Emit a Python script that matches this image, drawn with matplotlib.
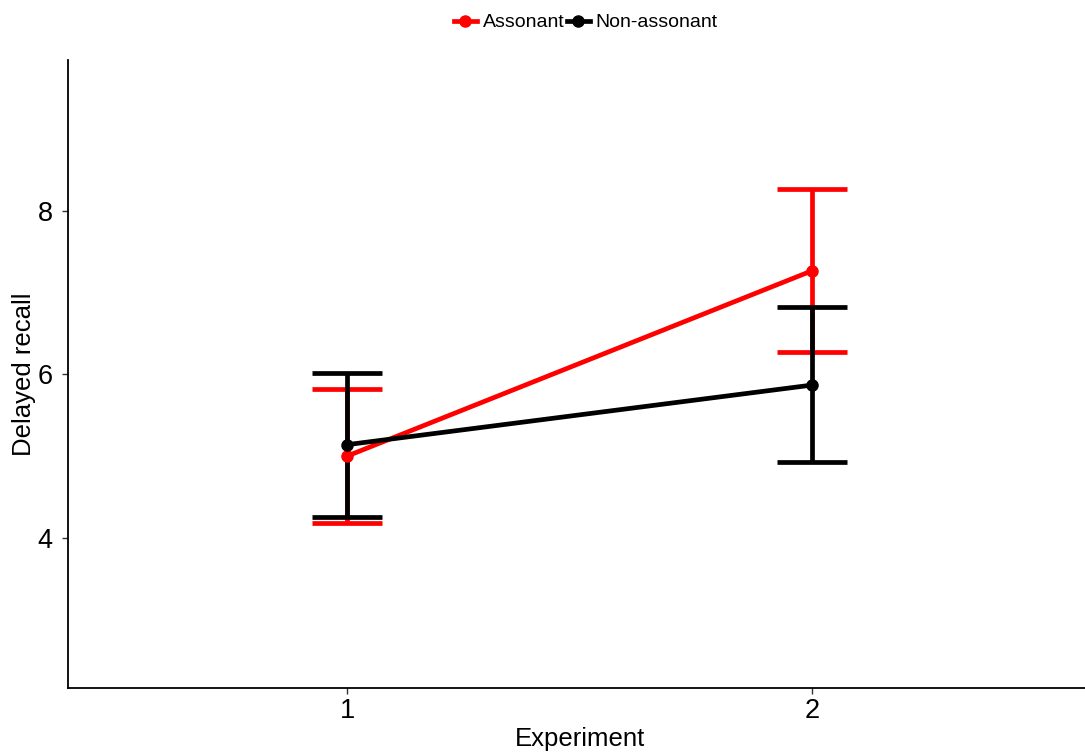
import numpy as np
import matplotlib.pyplot as plt

plt.rcParams['font.family'] = ['Liberation Sans', 'DejaVu Sans']

# data
experiments = [1, 2]
groups = ["Assonant", "Non-assonant"]
assonant_mean = [5.00, 7.27]
assonant_lo = [4.18, 6.27]
assonant_hi = [5.82, 8.27]
nonass_mean = [5.14, 5.87]
nonass_lo = [4.26, 4.93]
nonass_hi = [6.02, 6.82]

c_ass = "#ff0000"
c_non = "#000000"

fig = plt.figure(figsize=(10.85, 7.56), dpi=100)
# panel runs slightly past the right edge, as in the reference
ax = fig.add_axes([0.0627, 0.0899, 0.943, 0.8307])

x = np.array(experiments, dtype=float)
cap = 0.075

series = [
    (assonant_mean, assonant_lo, assonant_hi, c_ass, groups[0]),
    (nonass_mean, nonass_lo, nonass_hi, c_non, groups[1]),
]

# error bars first
for mean, lo, hi, col, lab in series:
    ax.vlines(x, lo, hi, color=col, lw=3.4, zorder=2)
    ax.hlines(lo, x - cap, x + cap, color=col, lw=3.4, zorder=2)
    ax.hlines(hi, x - cap, x + cap, color=col, lw=3.4, zorder=2)

# lines and points
for mean, lo, hi, col, lab in series:
    ax.plot(x, mean, "-o", color=col, lw=3.4, ms=8, label=lab, zorder=3)

ax.set_xlim(0.4, 2.6)
ax.set_ylim(2.16, 9.85)
ax.set_xticks(experiments)
ax.set_xticklabels([str(e) for e in experiments])
ax.set_yticks([4, 6, 8])
ax.tick_params(labelsize=19.5, length=4, width=1, color="#333333")
ax.tick_params(axis="y", pad=7)
ax.tick_params(axis="x", pad=3)
ax.set_xlabel("Experiment", fontsize=18.5, labelpad=2)
ax.set_ylabel("Delayed recall", fontsize=18.5, labelpad=1)

for s in ["top", "right"]:
    ax.spines[s].set_visible(False)
for s in ["left", "bottom"]:
    ax.spines[s].set_linewidth(1.3)

fig.legend(loc="upper center", bbox_to_anchor=(0.54, 1.005), ncol=2, frameon=False,
           fontsize=14, handlelength=1.2, handletextpad=0.3, columnspacing=0.1)

fig.savefig("out.png", dpi=100)
